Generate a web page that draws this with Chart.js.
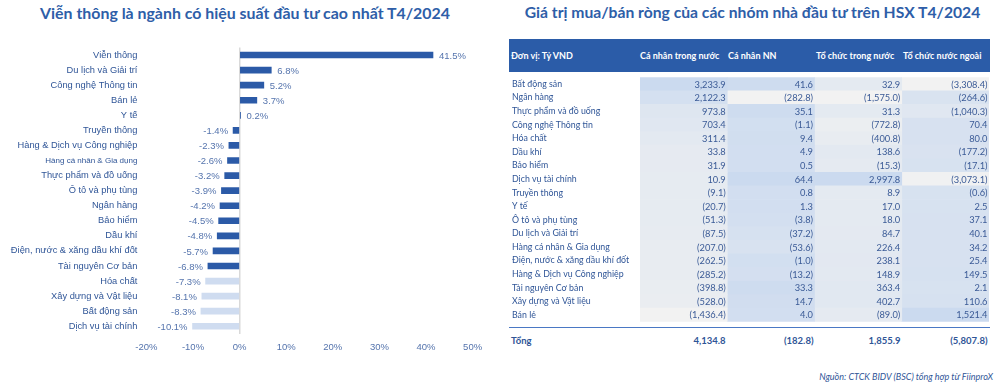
<!DOCTYPE html>
<html>
<head>
<meta charset="utf-8">
<script src="https://cdn.jsdelivr.net/npm/chart.js@4.4.1/dist/chart.umd.min.js"></script>
<style>
  body { margin: 0; width: 1000px; height: 384px; background: #fff; position: relative; overflow: hidden; font-family: Lato, sans-serif; }
  .title { position: absolute; top: 3px; font-weight: bold; color: #2e5ea8; text-align: center; white-space: nowrap; }
  #barChart { position: absolute; left: 0; top: 0; }
  #tableChart { position: absolute; left: 509px; top: 72px; }
  #head { position: absolute; left: 509px; top: 39px; width: 481px; height: 33px; background: #2b5ca8; }
  .hcell { position: absolute; top: 11px; color: #fff; font-weight: bold; font-size: 9px; white-space: nowrap; }
  #totalLine { position: absolute; left: 509px; top: 327px; width: 481px; height: 1px; background: #4a78c4; }
  .tcell { position: absolute; top: 335px; color: #2f5597; font-weight: bold; font-size: 9.5px; white-space: nowrap; }
  #source { position: absolute; right: 7px; top: 371px; font-style: italic; font-size: 9px; color: #2f5597; }
</style>
</head>
<body>
<div class="title" style="left:0;width:490px;font-size:15.9px">Viễn thông là ngành có hiệu suất đầu tư cao nhất T4/2024</div>
<div class="title" style="left:505px;width:495px;font-size:15.7px">Giá trị mua/bán ròng của các nhóm nhà đầu tư trên HSX T4/2024</div>
<canvas id="barChart" width="500" height="384"></canvas>
<div id="head"></div>
<canvas id="tableChart" width="481" height="255"></canvas>
<div id="totalLine"></div>
<div id="source">Nguồn: CTCK BIDV (BSC) tổng hợp từ FiinproX</div>
<script>
// Left chart: performance by sector, %
const sectors = ["Viễn thông", "Du lịch và Giải trí", "Công nghệ Thông tin", "Bán lẻ", "Y tế",
    "Truyền thông", "Hàng & Dịch vụ Công nghiệp", "Hàng cá nhân & Gia dụng", "Thực phẩm và đồ uống",
    "Ô tô và phụ tùng", "Ngân hàng", "Bảo hiểm", "Dầu khí", "Điện, nước & xăng dầu khí đốt",
    "Tài nguyên Cơ bản", "Hóa chất", "Xây dựng và Vật liệu", "Bất động sản", "Dịch vụ tài chính"];
const returns = [41.5, 6.8, 5.2, 3.7, 0.2, -1.4, -2.3, -2.6, -3.2, -3.9, -4.2, -4.5, -4.8, -5.7, -6.8, -7.3, -8.1, -8.3, -10.1];
const xTicks = [-20, -10, 0, 10, 20, 30, 40, 50];

// Right table: net buy/sell, bn VND
const tableRows = ["Bất động sản", "Ngân hàng", "Thực phẩm và đồ uống", "Công nghệ Thông tin", "Hóa chất",
    "Dầu khí", "Bảo hiểm", "Dịch vụ tài chính", "Truyền thông", "Y tế", "Ô tô và phụ tùng",
    "Du lịch và Giải trí", "Hàng cá nhân & Gia dụng", "Điện, nước & xăng dầu khí đốt",
    "Hàng & Dịch vụ Công nghiệp", "Tài nguyên Cơ bản", "Xây dựng và Vật liệu", "Bán lẻ"];
const columns = ["Cá nhân trong nước", "Cá nhân NN", "Tổ chức trong nước", "Tổ chức nước ngoài"];
const caNhanTrongNuoc = [3233.9, 2122.3, 973.8, 703.4, 311.4, 33.8, 31.9, 10.9, -9.1, -20.7, -51.3, -87.5, -207.0, -262.5, -285.2, -398.8, -528.0, -1436.4];
const caNhanNN = [41.6, -282.8, 35.1, -1.1, 9.4, 4.9, 0.5, 64.4, 0.8, 1.3, -3.8, -37.2, -53.6, -1.0, -13.2, 33.3, 14.7, 4.0];
const toChucTrongNuoc = [32.9, -1575.0, 31.3, -772.8, -400.8, 138.6, -15.3, 2997.8, 8.9, 17.0, 18.0, 84.7, 226.4, 238.1, 148.9, 363.4, 402.7, -89.0];
const toChucNuocNgoai = [-3308.4, -264.6, -1040.3, 70.4, 80.0, -177.2, -17.1, -3073.1, -0.6, 2.5, 37.1, 40.1, 34.2, 25.4, 149.5, 2.1, 110.6, 1521.4];
const totals = [4134.8, -182.8, 1855.9, -5807.8];

const dark = '#2b5aa7';
const light = '#cfdcf0';
const labelBlue = '#2f5597';
const valueBlue = '#5574ad';

function fmt(v) {
    const s = Math.abs(v).toLocaleString('en-US', { minimumFractionDigits: 1, maximumFractionDigits: 1 });
    return v < 0 ? '(' + s + ')' : s;
}

// colour scale like Excel: grey for column min, light blue for column max
function scaleColor(v, min, max) {
    const t = (v - min) / (max - min);
    const a = [242, 242, 242], b = [203, 218, 239];
    const c = a.map((ch, i) => Math.round(ch + (b[i] - ch) * t));
    return `rgb(${c[0]},${c[1]},${c[2]})`;
}

// value labels next to each bar
const barLabels = {
    id: 'barLabels',
    afterDatasetsDraw(chart) {
        const ctx = chart.ctx;
        const meta = chart.getDatasetMeta(0);
        ctx.save();
        ctx.font = '9.5px "Liberation Sans", Arial, sans-serif';
        ctx.fillStyle = valueBlue;
        ctx.textBaseline = 'middle';
        meta.data.forEach((bar, i) => {
            const v = returns[i];
            const txt = v.toFixed(1) + '%';
            if (v >= 0) {
                ctx.textAlign = 'left';
                ctx.fillText(txt, bar.x + 6, bar.y + 1);
            } else {
                ctx.textAlign = 'right';
                ctx.fillText(txt, bar.x - 5, bar.y + 1);
            }
        });
        ctx.restore();
    }
};

new Chart(document.getElementById('barChart'), {
    type: 'bar',
    data: {
        labels: sectors,
        datasets: [{
            data: returns,
            backgroundColor: returns.map((v, i) => i >= 15 ? light : dark),
            barThickness: 6
        }]
    },
    options: {
        indexAxis: 'y',
        responsive: false,
        animation: false,
        devicePixelRatio: 1,
        layout: { padding: { top: 47.5, right: 27.4, bottom: 0, left: 0 } },
        plugins: { legend: { display: false }, tooltip: { enabled: false } },
        scales: {
            x: {
                min: -20, max: 50,
                afterBuildTicks: s => { s.ticks = xTicks.map(v => ({ value: v })); },
                afterFit: s => { s.height = 50.2; },
                border: { display: false },
                grid: { drawTicks: false, lineWidth: 1.5, color: c => c.tick && c.tick.value === 0 ? '#d9d9d9' : 'rgba(0,0,0,0)' },
                ticks: { padding: 8, color: valueBlue, font: { family: '"Liberation Sans", Arial, sans-serif', size: 9.5 }, callback: v => v + '%' }
            },
            y: {
                afterFit: s => { s.width = 146.4; },
                border: { display: false },
                grid: { display: false, drawTicks: false },
                ticks: {
                    autoSkip: false,
                    padding: 9,
                    color: labelBlue,
                    font: c => ({ family: '"Liberation Sans", Arial, sans-serif', size: c.index === 7 ? 8 : 9.3 })
                }
            }
        }
    },
    plugins: [barLabels]
});

// header and total rows
const head = document.getElementById('head');
const colLeft = [640, 728, 816, 903];
const colRight = [727, 815, 902, 989];
let h = document.createElement('div');
h.className = 'hcell'; h.style.left = '2px'; h.textContent = 'Đơn vị: Tỷ VND';
head.appendChild(h);
columns.forEach((name, i) => {
    const d = document.createElement('div');
    d.className = 'hcell';
    d.style.left = (colLeft[i] - 509) + 'px';
    d.textContent = name;
    head.appendChild(d);
});
let t = document.createElement('div');
t.className = 'tcell'; t.style.left = '511px'; t.textContent = 'Tổng';
document.body.appendChild(t);
totals.forEach((v, i) => {
    const d = document.createElement('div');
    d.className = 'tcell';
    d.style.right = (1000 - colRight[i] + 1.5) + 'px';
    d.textContent = fmt(v);
    document.body.appendChild(d);
});

// table body as a heat-map of floating bars
const colData = [caNhanTrongNuoc, caNhanNN, toChucTrongNuoc, toChucNuocNgoai];

const cellText = {
    id: 'cellText',
    afterDatasetsDraw(chart) {
        const { ctx, scales: { x, y } } = chart;
        ctx.save();
        ctx.font = '9.3px Lato, sans-serif';
        ctx.fillStyle = '#3a5a96';
        ctx.textAlign = 'right';
        ctx.textBaseline = 'middle';
        colData.forEach((vals, c) => {
            const xr = x.getPixelForValue(c + 1) - 1.5;
            vals.forEach((v, r) => ctx.fillText(fmt(v), xr, y.getPixelForValue(r) + 0.5));
        });
        ctx.restore();
    }
};

new Chart(document.getElementById('tableChart'), {
    type: 'bar',
    data: {
        labels: tableRows,
        datasets: colData.map((vals, c) => {
            const min = Math.min(...vals), max = Math.max(...vals);
            return {
                label: columns[c],
                data: vals.map(() => [c, c + 1]),
                backgroundColor: vals.map(v => scaleColor(v, min, max)),
                borderWidth: 0,
                grouped: false,
                barPercentage: 1,
                categoryPercentage: 1
            };
        })
    },
    options: {
        indexAxis: 'y',
        responsive: false,
        animation: false,
        devicePixelRatio: 1,
        layout: { padding: { top: 0, right: 1, bottom: 0, left: 3 } },
        plugins: { legend: { display: false }, tooltip: { enabled: false } },
        scales: {
            x: { display: false, min: 0, max: 4 },
            y: {
                afterFit: s => { s.width = 128; },
                border: { display: false },
                grid: { display: false, drawTicks: false },
                ticks: { autoSkip: false, crossAlign: 'far', padding: 0, color: labelBlue, font: { family: 'Lato, sans-serif', size: 8.8 } }
            }
        }
    },
    plugins: [cellText]
});
</script>
</body>
</html>
